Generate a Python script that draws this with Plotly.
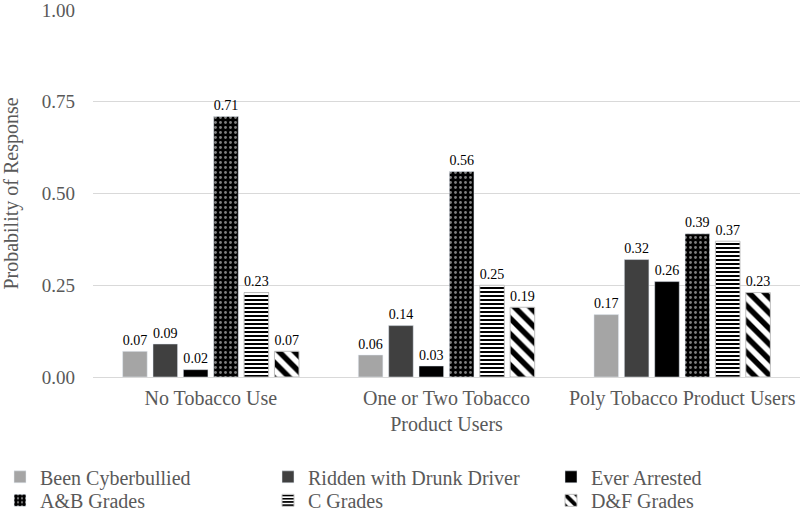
import plotly.graph_objects as go

categories = ["No Tobacco Use", "One or Two Tobacco<br>Product Users", "Poly Tobacco Product Users"]
series_names = ["Been Cyberbullied", "Ridden with Drunk Driver", "Ever Arrested",
                "A&B Grades", "C Grades", "D&F Grades"]
been_cyberbullied = [0.07, 0.06, 0.17]
ridden_drunk_driver = [0.09, 0.14, 0.32]
ever_arrested = [0.02, 0.03, 0.26]
ab_grades = [0.71, 0.56, 0.39]
c_grades = [0.23, 0.25, 0.37]
df_grades = [0.07, 0.19, 0.23]
tick_vals = [0, 0.25, 0.5, 0.75, 1.0]
tick_text = ["0.00", "0.25", "0.50", "0.75", "1.00"]

values = [been_cyberbullied, ridden_drunk_driver, ever_arrested, ab_grades, c_grades, df_grades]
styles = [
    dict(color="#A5A5A5"),
    dict(color="#404040"),
    dict(color="#000000"),
    dict(color="#000000", pattern=dict(shape=".", fgcolor="white", bgcolor="black", size=5, solidity=0.25)),
    dict(color="white", pattern=dict(shape="-", fgcolor="black", bgcolor="white", size=4, solidity=0.5, fillmode="replace"),
         line=dict(color="#BFBFBF", width=1)),
    dict(color="white", pattern=dict(shape="\\", fgcolor="black", bgcolor="white", size=11, solidity=0.5, fillmode="replace"),
         line=dict(color="#BFBFBF", width=1)),
]
legend_ids = ["legend", "legend2", "legend3", "legend4", "legend5", "legend6"]

font = "Liberation Serif, Times New Roman, serif"
fig = go.Figure()
for name, vals, st, lg in zip(series_names, values, styles, legend_ids):
    fig.add_trace(go.Bar(
        x=categories, y=vals, name=name, marker=st, legend=lg, showlegend=True,
        text=[f"{v:.2f}" for v in vals], textposition="outside",
        textfont=dict(family=font, size=16.5, color="black"),
        cliponaxis=False,
    ))

leg_common = dict(orientation="h", xref="container", yref="container",
                  xanchor="left", yanchor="top",
                  font=dict(size=20, color="#595959"), itemwidth=30,
                  tracegroupgap=0, bgcolor="rgba(0,0,0,0)")
col_x = [0.0, 268 / 800, 551 / 800]
row_y = [0.105, 0.059]
legend_layout = {}
for i, lg in enumerate(legend_ids):
    legend_layout[lg] = dict(x=col_x[i % 3], y=row_y[i // 3], **leg_common)

fig.update_layout(
    width=800, height=511,
    showlegend=True,
    margin=dict(l=93, r=0, t=8, b=134),
    paper_bgcolor="white", plot_bgcolor="white",
    barmode="group", bargap=0.227, bargroupgap=0.19,
    font=dict(family=font, size=18, color="#595959"),
    yaxis=dict(range=[0, 1], tickvals=tick_vals, ticktext=tick_text,
               gridcolor="#D9D9D9", gridwidth=1, zeroline=False,
               showline=False, ticks="", ticklabelstandoff=17,
               ticklabeloverflow="allow",
               tickfont=dict(size=19, color="#595959"),
               title=dict(text="Probability of Response", font=dict(size=20, color="#595959"), standoff=21)),
    xaxis=dict(showline=True, linecolor="#D9D9D9", linewidth=1, ticks="", automargin=False,
               ticklabelstandoff=3,
               tickfont=dict(size=20, color="#595959")),
    **legend_layout,
)
fig.write_html("out.html", config={"displayModeBar": False},
               post_script="document.body.style.margin='0';")
